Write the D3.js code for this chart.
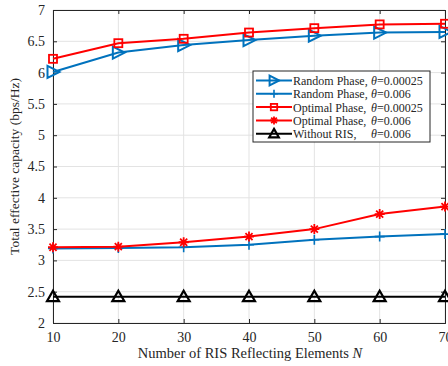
<!DOCTYPE html>
<html>
<head>
<meta charset="utf-8">
<script src="https://cdn.jsdelivr.net/npm/d3@7"></script>
<style>
  body { margin: 0; background: #fff; }
  text { font-family: "Liberation Serif", "Times New Roman", serif; fill: #262626; }
</style>
</head>
<body>
<div id="chart"></div>
<script>
var elements = [10, 20, 30, 40, 50, 60, 70];
var randomLow = [6.01, 6.32, 6.44, 6.52, 6.59, 6.64, 6.65];
var randomHigh = [3.19, 3.20, 3.21, 3.25, 3.33, 3.38, 3.42];
var optimalLow = [6.22, 6.47, 6.54, 6.64, 6.71, 6.77, 6.78];
var optimalHigh = [3.21, 3.22, 3.29, 3.38, 3.50, 3.74, 3.86];
var withoutRis = [2.42, 2.42, 2.42, 2.42, 2.42, 2.42, 2.42];
var yTicks = [2, 2.5, 3, 3.5, 4, 4.5, 5, 5.5, 6, 6.5, 7];
var xTicks = [10, 20, 30, 40, 50, 60, 70];

var series = [
    { name: "Random Phase,", theta: "=0.00025", values: randomLow, color: "#0072BD", marker: "triRight" },
    { name: "Random Phase,", theta: "=0.006", values: randomHigh, color: "#0072BD", marker: "plus" },
    { name: "Optimal Phase,", theta: "=0.00025", values: optimalLow, color: "#FF0000", marker: "square" },
    { name: "Optimal Phase,", theta: "=0.006", values: optimalHigh, color: "#FF0000", marker: "star" },
    { name: "Without RIS,", theta: "=0.006", values: withoutRis, color: "#000000", marker: "triUp" }
];

var W = 448, H = 366;
var margin = { top: 10, left: 53, right: 3, bottom: 43 };

var svg = d3.select("#chart").append("svg")
    .attr("width", W)
    .attr("height", H);

var x = d3.scaleLinear().domain([10, 70]).range([margin.left, W - margin.right]);
var y = d3.scaleLinear().domain([2, 7]).range([H - margin.bottom, margin.top]);

// grid
var grid = svg.append("g");
xTicks.forEach(function (v) {
    grid.append("line")
        .attr("x1", x(v)).attr("x2", x(v))
        .attr("y1", y(2)).attr("y2", y(7))
        .attr("stroke", "#e3e3e3").attr("stroke-width", 1);
});
yTicks.forEach(function (v) {
    grid.append("line")
        .attr("x1", x(10)).attr("x2", x(70))
        .attr("y1", y(v)).attr("y2", y(v))
        .attr("stroke", "#e3e3e3").attr("stroke-width", 1);
});

// axes
var xAxis = svg.append("g")
    .attr("transform", "translate(0," + y(2) + ")")
    .call(d3.axisBottom(x).tickValues(xTicks).tickSize(-4).tickPadding(9).tickFormat(d3.format("d")));
var xTop = svg.append("g")
    .attr("transform", "translate(0," + y(7) + ")")
    .call(d3.axisTop(x).tickValues(xTicks).tickSize(-4).tickFormat(""));
var yAxis = svg.append("g")
    .attr("transform", "translate(" + x(10) + ",0)")
    .call(d3.axisLeft(y).tickValues(yTicks).tickSize(-4).tickPadding(8).tickFormat(function (d) { return d; }));
var yRight = svg.append("g")
    .attr("transform", "translate(" + x(70) + ",0)")
    .call(d3.axisRight(y).tickValues(yTicks).tickSize(-4).tickFormat(""));

[xAxis, xTop, yAxis, yRight].forEach(function (g) {
    g.select(".domain").attr("stroke", "#262626").attr("stroke-width", 1);
    g.selectAll(".tick line").attr("stroke", "#262626");
    g.selectAll("text").style("font-size", "14px").attr("fill", "#262626")
        .style("font-family", "'Liberation Serif', serif");
});

// axis titles
svg.append("text")
    .attr("x", 250).attr("y", 358)
    .attr("text-anchor", "middle")
    .style("font-size", "14.5px")
    .html("Number of RIS Reflecting Elements <tspan font-style='italic'>N</tspan>");

svg.append("text")
    .attr("transform", "translate(19," + ((y(2) + y(7)) / 2) + ") rotate(-90)")
    .attr("text-anchor", "middle")
    .style("font-size", "13.5px")
    .text("Total effective capacity (bps/Hz)");

function drawMarker(g, type, color, size) {
    var s = size;
    if (type === "triRight") {
        g.append("path")
            .attr("d", "M" + (-s * 0.55) + "," + (-s * 0.6) + "L" + (s * 0.65) + ",0L" + (-s * 0.55) + "," + (s * 0.6) + "Z")
            .attr("fill", "none").attr("stroke", color).attr("stroke-width", 2);
    } else if (type === "triUp") {
        g.append("path")
            .attr("d", "M0," + (-s * 0.6) + "L" + (s * 0.6) + "," + (s * 0.45) + "L" + (-s * 0.6) + "," + (s * 0.45) + "Z")
            .attr("fill", "none").attr("stroke", color).attr("stroke-width", 2.2);
    } else if (type === "square") {
        g.append("rect")
            .attr("x", -s * 0.4).attr("y", -s * 0.4)
            .attr("width", s * 0.8).attr("height", s * 0.8)
            .attr("fill", "none").attr("stroke", color).attr("stroke-width", 1.8);
    } else if (type === "plus") {
        g.append("path")
            .attr("d", "M" + (-s * 0.5) + ",0H" + (s * 0.5) + "M0," + (-s * 0.5) + "V" + (s * 0.5))
            .attr("stroke", color).attr("stroke-width", 1.6);
    } else if (type === "star") {
        var r = s * 0.5, d = "";
        for (var k = 0; k < 4; k++) {
            var a = k * Math.PI / 4;
            d += "M" + (-r * Math.cos(a)) + "," + (-r * Math.sin(a)) + "L" + (r * Math.cos(a)) + "," + (r * Math.sin(a));
        }
        g.append("path").attr("d", d).attr("stroke", color).attr("stroke-width", 1.8);
    }
}

var line = d3.line()
    .x(function (d, i) { return x(elements[i]); })
    .y(function (d) { return y(d); });

var plot = svg.append("g");
series.forEach(function (s) {
    plot.append("path")
        .datum(s.values)
        .attr("d", line)
        .attr("fill", "none")
        .attr("stroke", s.color)
        .attr("stroke-width", 2);
    s.values.forEach(function (v, i) {
        var g = plot.append("g").attr("transform", "translate(" + x(elements[i]) + "," + y(v) + ")");
        drawMarker(g, s.marker, s.color, 10);
    });
});

// legend
var lg = svg.append("g").attr("transform", "translate(253,71)");
lg.append("rect")
    .attr("width", 177).attr("height", 71)
    .attr("fill", "#fff").attr("stroke", "#262626").attr("stroke-width", 1);
series.forEach(function (s, i) {
    var row = lg.append("g").attr("transform", "translate(0," + (9.5 + i * 13.3) + ")");
    row.append("line")
        .attr("x1", 3).attr("x2", 39)
        .attr("stroke", s.color).attr("stroke-width", 2);
    var m = row.append("g").attr("transform", "translate(21,0)");
    drawMarker(m, s.marker, s.color, 8);
    var t = row.append("text")
        .attr("x", 40).attr("y", 4.5)
        .style("font-size", "12px");
    t.append("tspan").text(s.name);
    t.append("tspan").attr("x", 118).attr("font-style", "italic").text("\u03b8");
    t.append("tspan").text(s.theta);
});
</script>
</body>
</html>
